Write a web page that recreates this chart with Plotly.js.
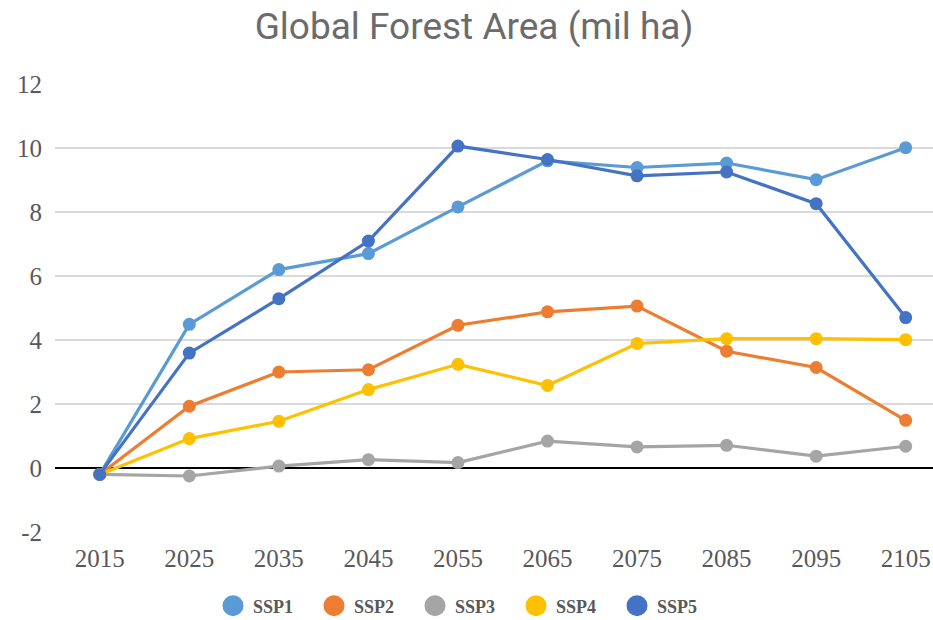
<!DOCTYPE html>
<html>
<head>
<meta charset="utf-8">
<script src="https://cdn.plot.ly/plotly-3.0.1.min.js"></script>
<style>
  html, body { margin: 0; padding: 0; background: #fff; }
  #chart { width: 933px; height: 620px; }
</style>
</head>
<body>
<div id="chart"></div>
<script>
// Years on the category axis
const years = ['2015', '2025', '2035', '2045', '2055', '2065', '2075', '2085', '2095', '2105'];

// Change in global forest area (mil ha) per scenario
const ssp1 = [-0.2, 4.49, 6.2, 6.7, 8.16, 9.6, 9.39, 9.53, 9.01, 10.01];
const ssp2 = [-0.2, 1.93, 3.0, 3.07, 4.46, 4.88, 5.06, 3.65, 3.14, 1.49];
const ssp3 = [-0.2, -0.25, 0.06, 0.26, 0.17, 0.84, 0.66, 0.71, 0.37, 0.68];
const ssp4 = [-0.2, 0.92, 1.46, 2.45, 3.24, 2.58, 3.89, 4.04, 4.04, 4.01];
const ssp5 = [-0.2, 3.59, 5.29, 7.09, 10.06, 9.64, 9.13, 9.25, 8.26, 4.7];

const seriesNames = ['SSP1', 'SSP2', 'SSP3', 'SSP4', 'SSP5'];
const seriesValues = [ssp1, ssp2, ssp3, ssp4, ssp5];
const colors = ['#5B9BD5', '#ED7D31', '#A5A5A5', '#FFC000', '#4472C4'];

const traces = [];
seriesValues.forEach((vals, i) => {
  traces.push({
    type: 'scatter',
    mode: 'lines+markers',
    x: years,
    y: vals,
    name: seriesNames[i],
    legendgroup: seriesNames[i],
    showlegend: false,
    line: { color: colors[i], width: 3.2 },
    marker: { color: colors[i], size: 13 },
    hoverinfo: 'x+y+name'
  });
});
// Legend entries shown as plain circles
seriesValues.forEach((vals, i) => {
  traces.push({
    type: 'scatter',
    mode: 'markers',
    x: [null],
    y: [null],
    name: seriesNames[i],
    legendgroup: seriesNames[i],
    marker: { color: colors[i], size: 22, line: { color: colors[i], width: 5 } },
    hoverinfo: 'skip'
  });
});

const layout = {
  width: 933,
  height: 620,
  paper_bgcolor: '#ffffff',
  plot_bgcolor: '#ffffff',
  margin: { l: 55, r: 0, t: 84, b: 88 },
  title: {
    text: 'Global Forest Area (mil ha)',
    font: { family: 'Roboto, sans-serif', size: 37, color: '#6b6b6b' },
    x: 474 / 933,
    xanchor: 'center',
    xref: 'container',
    y: 1 - 26 / 620,
    yanchor: 'middle',
    yref: 'container'
  },
  xaxis: {
    type: 'category',
    range: [-0.5, 9.305],
    showgrid: false,
    zeroline: false,
    showline: false,
    ticks: '',
    ticklabelstandoff: 9,
    tickfont: { family: 'Liberation Serif, serif', size: 25, color: '#595959' },
    fixedrange: true
  },
  yaxis: {
    range: [-2, 12],
    tickvals: [-2, 0, 2, 4, 6, 8, 10, 12],
    ticktext: ['-2', '0', '2', '4', '6', '8', '10', '12'],
    showgrid: true,
    gridcolor: '#d9d9d9',
    gridwidth: 1.5,
    zeroline: true,
    zerolinecolor: '#000000',
    zerolinewidth: 1.2,
    showline: false,
    ticks: '',
    ticklabelstandoff: 12,
    tickfont: { family: 'Liberation Serif, serif', size: 25, color: '#595959' },
    fixedrange: true
  },
  showlegend: true,
  legend: {
    orientation: 'h',
    x: 213 / 933,
    xref: 'container',
    xanchor: 'left',
    y: 14 / 620,
    yref: 'container',
    yanchor: 'middle',
    entrywidth: 56,
    entrywidthmode: 'pixels',
    itemsizing: 'trace',
    bgcolor: 'rgba(0,0,0,0)',
    font: { family: 'Liberation Serif, serif', size: 18, color: '#595959', weight: 'bold' }
  }
};

Plotly.newPlot('chart', traces, layout, { displayModeBar: false, staticPlot: true });
</script>
</body>
</html>
